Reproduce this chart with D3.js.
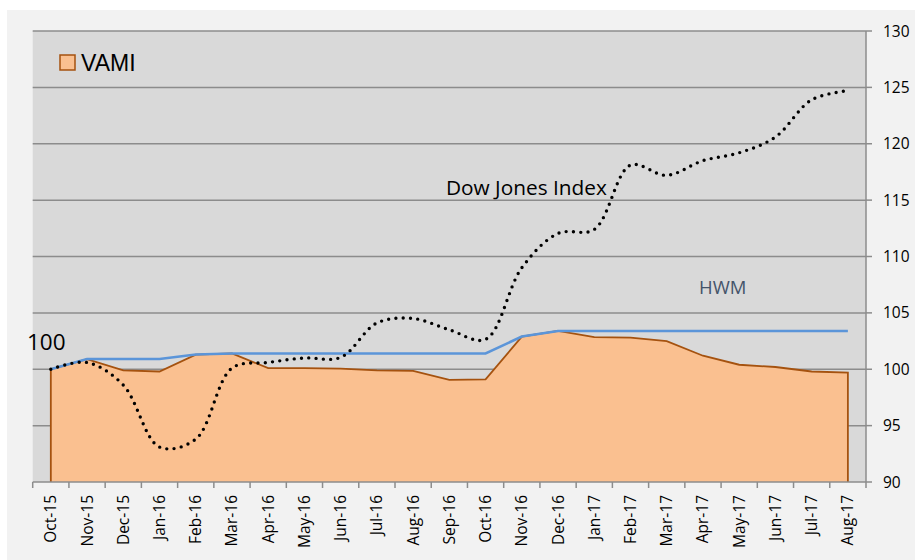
<!DOCTYPE html>
<html>
<head>
<meta charset="utf-8">
<script src="https://cdn.jsdelivr.net/npm/d3@7"></script>
<style>
  html, body { margin: 0; padding: 0; background: #ffffff; }
  svg { display: block; }
</style>
</head>
<body>
<div id="chart"></div>
<script>

const width = 915 ;
const height = 560 ;

// data
const months = [ "Oct-15", "Nov-15", "Dec-15", "Jan-16", "Feb-16", "Mar-16", "Apr-16", "May-16",
                 "Jun-16", "Jul-16", "Aug-16", "Sep-16", "Oct-16", "Nov-16", "Dec-16", "Jan-17",
                 "Feb-17", "Mar-17", "Apr-17", "May-17", "Jun-17", "Jul-17", "Aug-17" ] ;

const vami = [ 100.0, 100.9, 99.9, 99.8, 101.3, 101.4, 100.1, 100.1,
               100.05, 99.9, 99.85, 99.05, 99.1, 102.9, 103.4, 102.85,
               102.8, 102.5, 101.2, 100.4, 100.2, 99.8, 99.7 ] ;

const hwm = [ 100.0, 100.9, 100.9, 100.9, 101.3, 101.4, 101.4, 101.4,
              101.4, 101.4, 101.4, 101.4, 101.4, 102.9, 103.4, 103.4,
              103.4, 103.4, 103.4, 103.4, 103.4, 103.4, 103.4 ] ;

const dowJones = [ 100.0, 100.6, 98.6, 93.1, 93.8, 100.1, 100.6, 101.0,
                   101.05, 104.1, 104.5, 103.5, 102.65, 109.0, 112.05, 112.4,
                   118.1, 117.2, 118.5, 119.2, 120.6, 123.9, 124.7 ] ;

const yTicks = [ 90, 95, 100, 105, 110, 115, 120, 125, 130 ] ;


const svg = d3.select( "#chart" ).append( "svg" )
	.attr( "width", width )
	.attr( "height", height )

svg.append( "rect" )
	.attr( "x", 7 ).attr( "y", 10 )
	.attr( "width", width - 7 ).attr( "height", height - 10 )
	.attr( "fill", "#f2f2f2" )

const plotLeft = 32.7, plotRight = 866, plotTop = 31, plotBottom = 482

const x = d3.scaleBand().domain( months ).range( [ plotLeft, plotRight ] ).padding( 0 )
const y = d3.scaleLinear().domain( [ 90, 130 ] ).range( [ plotBottom, plotTop ] )
const cx = function(d, i) { return x( months[i] ) + x.bandwidth() / 2 ; }

svg.append( "rect" )
	.attr( "x", plotLeft ).attr( "y", plotTop )
	.attr( "width", plotRight - plotLeft ).attr( "height", plotBottom - plotTop )
	.attr( "fill", "#d9d9d9" )

// grid lines
svg.append( "g" )
	.selectAll( "line" )
	.data( yTicks.filter( function(t) { return t > 90 ; } ) )
	.enter().append( "line" )
		.attr( "x1", plotLeft ).attr( "x2", plotRight )
		.attr( "y1", function(d) { return y(d) ; } )
		.attr( "y2", function(d) { return y(d) ; } )
		.attr( "stroke", "#8c8c8c" )
		.attr( "stroke-width", 1.5 )

// VAMI area
const area = d3.area()
	.x( cx )
	.y0( y(90) )
	.y1( function(d) { return y(d) ; } )

svg.append( "path" )
	.datum( vami )
	.attr( "d", area )
	.attr( "fill", "#fac090" )

const vamiOutline = d3.line().x( function(d) { return d[0] ; } ).y( function(d) { return d[1] ; } )
const outlinePts = [ [ cx(null, 0), y(90) ] ]
	.concat( vami.map( function(d, i) { return [ cx(d, i), y(d) ] ; } ) )
	.concat( [ [ cx(null, vami.length - 1), y(90) ] ] )

svg.append( "path" )
	.datum( outlinePts )
	.attr( "d", vamiOutline )
	.attr( "fill", "none" )
	.attr( "stroke", "#a5520f" )
	.attr( "stroke-width", 1.8 )

// HWM
svg.append( "path" )
	.datum( hwm )
	.attr( "d", d3.line().x( cx ).y( function(d) { return y(d) ; } ) )
	.attr( "fill", "none" )
	.attr( "stroke", "#5b95d9" )
	.attr( "stroke-width", 2.5 )

// Dow Jones, dotted smooth
svg.append( "path" )
	.datum( dowJones )
	.attr( "d", d3.line().x( cx ).y( function(d) { return y(d) ; } ).curve( d3.curveCatmullRom.alpha( 0.5 ) ) )
	.attr( "fill", "none" )
	.attr( "stroke", "#000000" )
	.attr( "stroke-width", 3.4 )
	.attr( "stroke-linecap", "round" )
	.attr( "stroke-dasharray", "0 7.3" )

// right axis
const yAxis = svg.append( "g" )
yAxis.append( "line" )
	.attr( "x1", plotRight ).attr( "x2", plotRight )
	.attr( "y1", plotTop ).attr( "y2", plotBottom )
	.attr( "stroke", "#8c8c8c" ).attr( "stroke-width", 1.5 )
yAxis.selectAll( "line.tick" )
	.data( yTicks )
	.enter().append( "line" )
		.attr( "class", "tick" )
		.attr( "x1", plotRight ).attr( "x2", plotRight + 6 )
		.attr( "y1", function(d) { return y(d) ; } )
		.attr( "y2", function(d) { return y(d) ; } )
		.attr( "stroke", "#8c8c8c" ).attr( "stroke-width", 1.5 )
yAxis.selectAll( "text" )
	.data( yTicks )
	.enter().append( "text" )
		.attr( "x", 883 )
		.attr( "y", function(d) { return y(d) + 5.5 ; } )
		.attr( "font-family", "Open Sans, sans-serif" )
		.attr( "font-size", 15.5 )
		.attr( "fill", "#000" )
		.text( function(d) { return d ; } )

// bottom axis
const xAxis = svg.append( "g" )
xAxis.append( "line" )
	.attr( "x1", plotLeft ).attr( "x2", plotRight )
	.attr( "y1", plotBottom ).attr( "y2", plotBottom )
	.attr( "stroke", "#8c8c8c" ).attr( "stroke-width", 1.5 )
xAxis.selectAll( "line.tick" )
	.data( months.concat( [ "end" ] ) )
	.enter().append( "line" )
		.attr( "class", "tick" )
		.attr( "x1", function(d, i) { return plotLeft + i * x.bandwidth() ; } )
		.attr( "x2", function(d, i) { return plotLeft + i * x.bandwidth() ; } )
		.attr( "y1", plotBottom ).attr( "y2", plotBottom + 6 )
		.attr( "stroke", "#8c8c8c" ).attr( "stroke-width", 1.5 )
xAxis.selectAll( "text" )
	.data( months )
	.enter().append( "text" )
		.attr( "transform", function(d, i) { return "translate(" + ( cx(d, i) + 5.5 ) + "," + 495 + ") rotate(-90)" ; } )
		.attr( "text-anchor", "end" )
		.attr( "font-family", "Open Sans, sans-serif" )
		.attr( "font-size", 15.5 )
		.attr( "fill", "#000" )
		.text( function(d) { return d ; } )

// legend
svg.append( "rect" )
	.attr( "x", 60 ).attr( "y", 55 )
	.attr( "width", 15 ).attr( "height", 15 )
	.attr( "fill", "#fac090" )
	.attr( "stroke", "#a5520f" ).attr( "stroke-width", 1.5 )
svg.append( "text" )
	.attr( "x", 81 ).attr( "y", 71 )
	.attr( "font-family", "Liberation Sans, Arial, sans-serif" )
	.attr( "font-size", 23 )
	.attr( "fill", "#000" )
	.text( "VAMI" )

// annotations
svg.append( "text" )
	.attr( "x", 27 ).attr( "y", 350 )
	.attr( "font-family", "Open Sans, sans-serif" )
	.attr( "font-size", 22.5 )
	.attr( "fill", "#000" )
	.text( "100" )

svg.append( "text" )
	.attr( "x", 446 ).attr( "y", 195 )
	.attr( "font-family", "Open Sans, sans-serif" )
	.attr( "font-size", 20.8 )
	.attr( "fill", "#000" )
	.text( "Dow Jones Index" )

svg.append( "text" )
	.attr( "x", 699 ).attr( "y", 294 )
	.attr( "font-family", "Open Sans, sans-serif" )
	.attr( "font-size", 18.5 )
	.attr( "fill", "#44546a" )
	.text( "HWM" )

</script>
</body>
</html>
